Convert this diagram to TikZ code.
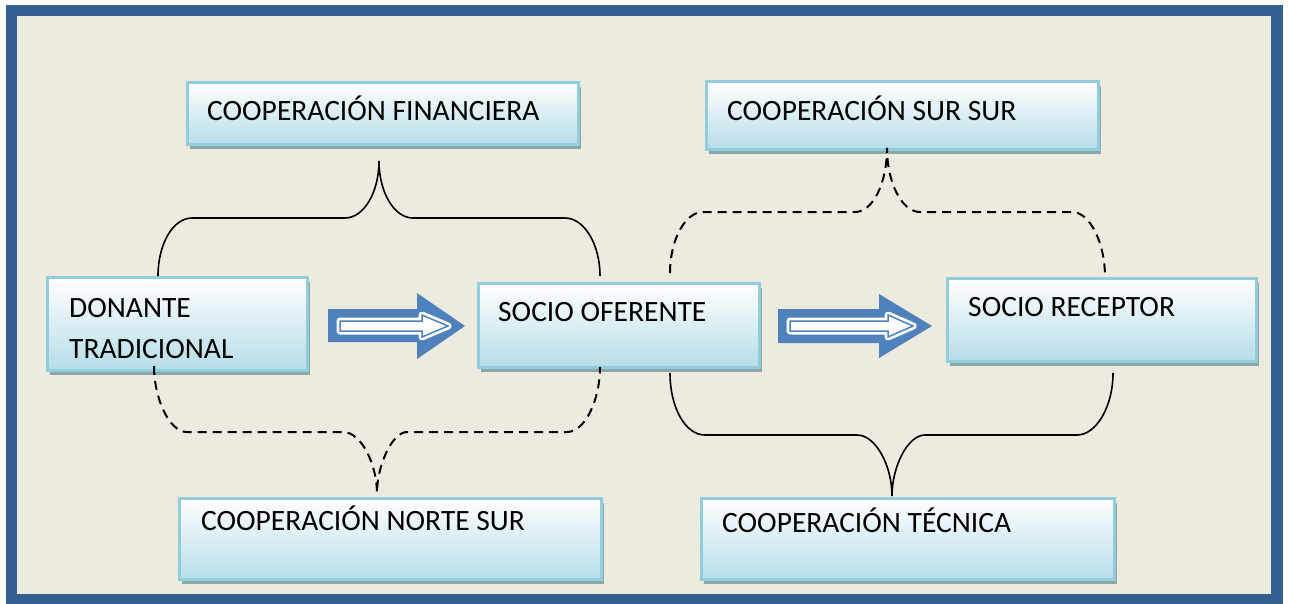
\documentclass[tikz,border=0pt]{standalone}
\usepackage{fontspec}
\setmainfont{Carlito}
\usetikzlibrary{shadows}
\definecolor{framec}{HTML}{365F91}
\definecolor{bgc}{HTML}{EDEAE0}
\definecolor{boxline}{HTML}{92CDDC}
\definecolor{boxfill}{HTML}{B6DDE8}
\definecolor{shadowc}{HTML}{8DA6A9}
\definecolor{arrowc}{HTML}{4F81BD}
\tikzset{
  box/.style={draw=boxline, line width=2.5pt, top color=white, bottom color=boxfill,
    shading angle=0, inner sep=0pt, anchor=north west,
    general shadow={fill=shadowc, shadow xshift=3pt, shadow yshift=-5pt}},
  lbl/.style={inner sep=0pt, anchor=base west, font=\fontsize{29.5}{41}\selectfont},
  solidbrace/.style={draw=black, line width=1.6pt},
  dashbrace/.style={draw=black, line width=2pt, dash pattern=on 9pt off 6pt},
  innerwhite/.style={white, line width=7pt, line join=round},
  innerblue/.style={arrowc, line width=1.5pt},
}
\begin{document}
\begin{tikzpicture}[x=1pt,y=-1pt]
\useasboundingbox (0,0) rectangle (1290,603);
\fill[white] (0,0) rectangle (1290,603);
\fill[bgc] (11.5,10.5) rectangle (1277,600);
\draw[framec, line width=11.5pt] (11.5,10.5) rectangle (1277,600);

% boxes
\node[box, minimum width=391pt, minimum height=62pt] (fin) at (186,81) {};
\node[box, minimum width=392pt, minimum height=68pt] (sur) at (705,80) {};
\node[box, minimum width=260pt, minimum height=93pt] (don) at (46,276) {};
\node[box, minimum width=281pt, minimum height=84pt] (ofe) at (477,282) {};
\node[box, minimum width=309pt, minimum height=83pt] (rec) at (946,277) {};
\node[box, minimum width=422pt, minimum height=81pt] (nor) at (178,497) {};
\node[box, minimum width=413pt, minimum height=81pt] (tec) at (700,497) {};

% labels
\node[lbl] (tfin) at (207,120) {COOPERACIÓN FINANCIERA};
\node[lbl] (tsur) at (727,120) {COOPERACIÓN SUR SUR};
\node[lbl, anchor=north west, align=left] (tdon) at (69,298) {DONANTE\\TRADICIONAL};
\node[lbl] (tofe) at (498,321) {SOCIO OFERENTE};
\node[lbl] (trec) at (968,316) {SOCIO RECEPTOR};
\node[lbl] (tnor) at (201,530) {COOPERACIÓN NORTE SUR};
\node[lbl] (ttec) at (722,532) {COOPERACIÓN TÉCNICA};

% braces
\draw[solidbrace] (158,276) .. controls (158,244) and (173,218) .. (192,218) -- (345,218)
  .. controls (364,218) and (379,192) .. (379,161)
  .. controls (379,192) and (394,218) .. (413,218) -- (565,218)
  .. controls (584,218) and (600,244) .. (600,276);
\draw[dashbrace] (670,273) .. controls (670,240) and (685,212) .. (703,212) -- (855,212)
  .. controls (873,212) and (887,183) .. (887,148)
  .. controls (887,183) and (902,212) .. (920,212) -- (1072,212)
  .. controls (1090,212) and (1105,243) .. (1105,277);
\draw[dashbrace] (154,366) .. controls (154,398) and (169,432) .. (187,432) -- (343,432)
  .. controls (362,432) and (377,466) .. (377,493)
  .. controls (377,466) and (392,432) .. (407,432) -- (567,432)
  .. controls (585,432) and (600,400) .. (600,367);
\draw[solidbrace] (670,373) .. controls (670,407) and (685,435) .. (705,435) -- (857,435)
  .. controls (876,435) and (892,466) .. (892,496)
  .. controls (892,466) and (908,435) .. (925,435) -- (1077,435)
  .. controls (1096,435) and (1113,407) .. (1113,373);

% arrows
\fill[arrowc] (328,309) -- (417,309) -- (417,293) -- (465,326) -- (417,359) -- (417,342) -- (328,342) -- cycle;
\filldraw[innerwhite] (340,321) -- (422,321) -- (422,315) -- (448,326) -- (422,337) -- (422,331) -- (340,331) -- cycle;
\draw[innerblue] (340,321) -- (422,321) -- (422,315) -- (448,326) -- (422,337) -- (422,331) -- (340,331) -- cycle;

\fill[arrowc] (778,309) -- (879,309) -- (879,294) -- (932,326) -- (879,358) -- (879,343) -- (778,343) -- cycle;
\filldraw[innerwhite] (790,321) -- (888,321) -- (888,315) -- (913,326) -- (888,337) -- (888,331) -- (790,331) -- cycle;
\draw[innerblue] (790,321) -- (888,321) -- (888,315) -- (913,326) -- (888,337) -- (888,331) -- (790,331) -- cycle;
\end{tikzpicture}
\end{document}
